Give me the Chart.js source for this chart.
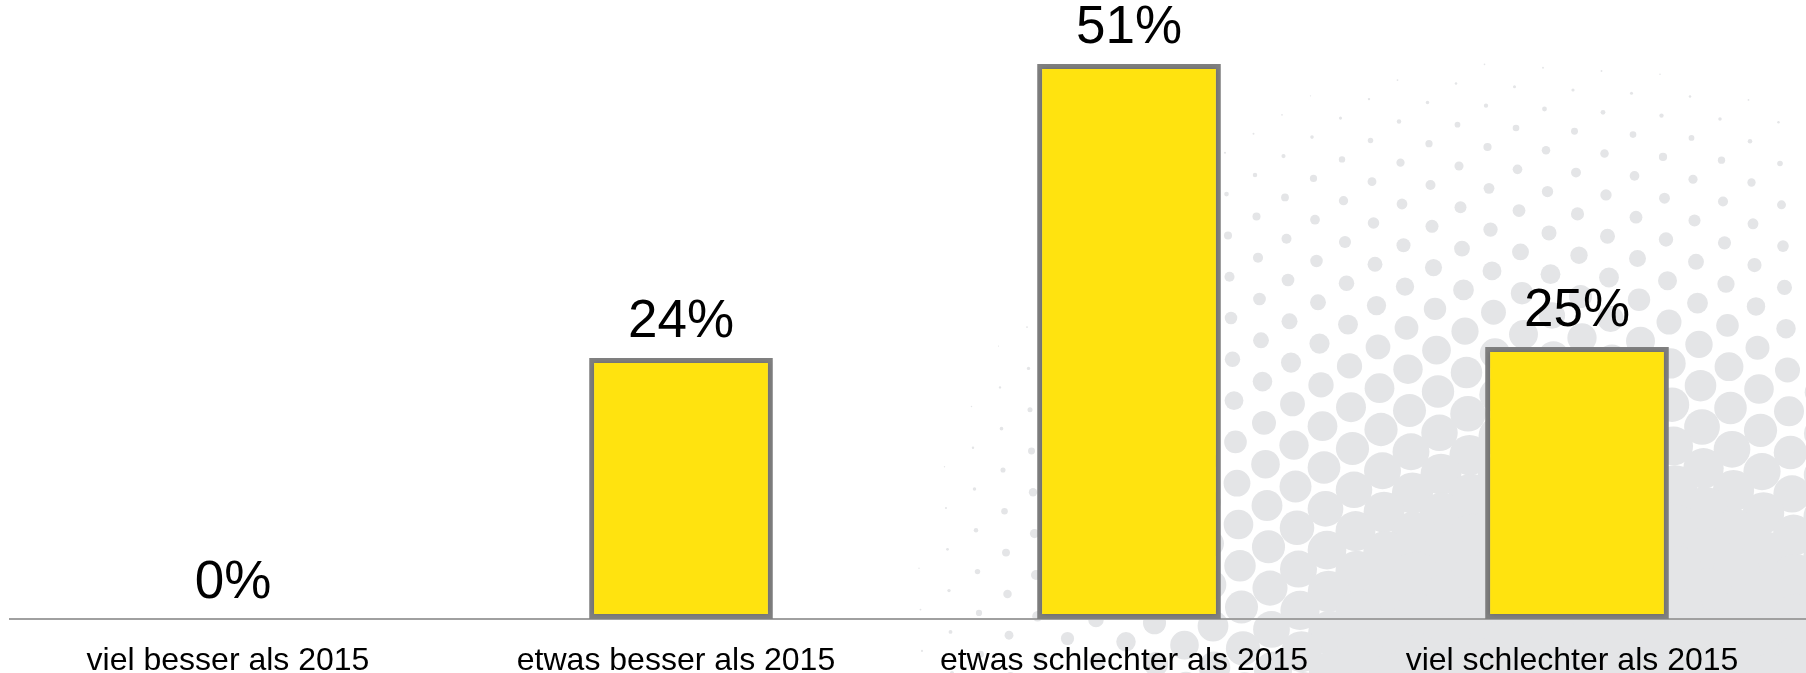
<!DOCTYPE html>
<html>
<head>
<meta charset="utf-8">
<script src="https://cdn.jsdelivr.net/npm/chart.js@4"></script>
<style>
  html, body { margin: 0; padding: 0; background: #ffffff; }
  #chart { display: block; }
</style>
</head>
<body>
<canvas id="chart" width="1806" height="673"></canvas>
<script>
const categories = ['viel besser als 2015', 'etwas besser als 2015', 'etwas schlechter als 2015', 'viel schlechter als 2015'];
const shares = [0, 24, 51, 25];

const FONT = '"Liberation Sans", Arial, Helvetica, sans-serif';

// grey halftone dots behind the plot: coverage falls off from a point near
// the lower right, slowly at first and faster toward the outer edge
function dotRadius(x, y) {
    const dx = 1600 - x, dy = 750 - y;
    const u = (dx + dy) / Math.SQRT2;
    const v = (dx - dy) / Math.SQRT2 * 1.1;
    const d = Math.hypot(u, v);
    const k = d < 443 ? 0.006 : 0.013;
    const cover = Math.min(1, Math.exp(-1.5 - k * (d - 443)));
    let r = 30 * Math.sqrt(cover);
    if (d > 640) r *= Math.max(0, (760 - d) / 120);
    return Math.min(r, 24);
}

const dotBackground = {
    id: 'dotBackground',
    beforeDraw(chart) {
        const ctx = chart.ctx;
        ctx.save();
        ctx.fillStyle = '#ffffff';
        ctx.fillRect(0, 0, chart.width, chart.height);
        ctx.fillStyle = '#e4e5e7';
        const ax = 58.5, ay = 3.3, bx = -28.5, by = 19;
        for (let i = -30; i <= 30; i++) {
            for (let j = -30; j <= 50; j++) {
                const x = 1516 + i * ax + j * bx;
                const y = 128 + i * ay + j * by;
                if (x < -40 || x > chart.width + 40 || y < -40 || y > chart.height + 40) continue;
                const r = dotRadius(x, y);
                if (r < 0.6) continue;
                ctx.beginPath();
                ctx.arc(x, y, r, 0, Math.PI * 2);
                ctx.fill();
            }
        }
        ctx.restore();
    }
};

// baseline under the bars, running past the plot area to the right edge
const baseLine = {
    id: 'baseLine',
    beforeDatasetsDraw(chart) {
        const ctx = chart.ctx;
        const y = chart.scales.y.getPixelForValue(0);
        ctx.save();
        ctx.strokeStyle = '#a0a0a0';
        ctx.lineWidth = 2;
        ctx.beginPath();
        ctx.moveTo(9, y);
        ctx.lineTo(chart.width, y);
        ctx.stroke();
        ctx.restore();
        // soft shadow around the bars
        ctx.save();
        ctx.shadowColor = 'rgba(0, 0, 0, 0.22)';
        ctx.shadowBlur = 5;
    },
    afterDatasetsDraw(chart) {
        chart.ctx.restore();
    }
};

// percentage above each bar
const valueLabels = {
    id: 'valueLabels',
    afterDatasetsDraw(chart) {
        const ctx = chart.ctx;
        const meta = chart.getDatasetMeta(0);
        ctx.save();
        ctx.font = '53px ' + FONT;
        ctx.fillStyle = '#000000';
        ctx.textAlign = 'center';
        ctx.textBaseline = 'alphabetic';
        meta.data.forEach((bar, i) => {
            ctx.fillText(shares[i] + '%', bar.x, bar.y - 21);
        });
        ctx.restore();
    }
};

new Chart(document.getElementById('chart'), {
    type: 'bar',
    data: {
        labels: categories,
        datasets: [{
            data: shares,
            backgroundColor: '#ffe30f',
            borderColor: '#808080',
            borderWidth: 5,
            borderSkipped: false,
            barPercentage: 0.41,
            categoryPercentage: 1
        }]
    },
    options: {
        responsive: false,
        animation: false,
        devicePixelRatio: 1,
        layout: {
            padding: { top: 20.6, left: 9, right: 5, bottom: 0 }
        },
        plugins: {
            legend: { display: false },
            tooltip: { enabled: false }
        },
        scales: {
            x: {
                grid: { display: false },
                border: { display: false },
                ticks: {
                    color: '#000000',
                    font: { family: FONT, size: 32, lineHeight: 1.2 },
                    padding: 15,
                    labelOffset: -5,
                    maxRotation: 0,
                    autoSkip: false
                },
                afterFit(scale) {
                    scale.height = 54;
                }
            },
            y: {
                display: false,
                min: 0,
                max: 55
            }
        }
    },
    plugins: [dotBackground, baseLine, valueLabels]
});
</script>
</body>
</html>
